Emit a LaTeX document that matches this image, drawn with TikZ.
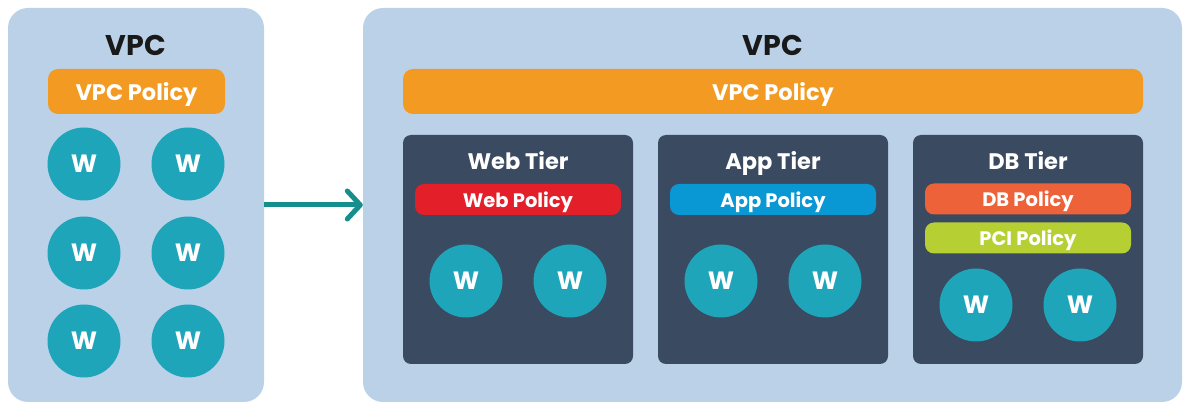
\documentclass[tikz,border=0pt]{standalone}
\usepackage{fontspec}
\setmainfont{Poppins}
\usetikzlibrary{positioning,arrows.meta}
\definecolor{panelblue}{HTML}{BBD1E8}
\definecolor{tierdark}{HTML}{3A4A60}
\definecolor{wteal}{HTML}{1FA5BA}
\definecolor{vpcorange}{HTML}{F39A22}
\definecolor{webred}{HTML}{E31F2A}
\definecolor{appblue}{HTML}{0998D3}
\definecolor{dborange}{HTML}{EE623A}
\definecolor{pcigreen}{HTML}{B6CF32}
\definecolor{arrowteal}{HTML}{178E8E}
\begin{document}
\begin{tikzpicture}
    \tikzset{x=1pt,y=-1pt,every path/.style={>=latex},
      panel style/.style={rectangle,rounded corners=20pt,fill=panelblue,inner sep=0pt},
      tier style/.style={rectangle,rounded corners=8pt,fill=tierdark,minimum width=230pt,minimum height=229pt,inner sep=0pt},
      policy style/.style={rectangle,rounded corners=9pt,text=white,font=\bfseries\fontsize{19.5}{19.5}\selectfont,inner sep=0pt,text depth=0pt,minimum height=31pt,minimum width=206pt},
      title style/.style={font=\bfseries\fontsize{22.5}{22.5}\selectfont,text=white,text depth=0pt},
      w style/.style={circle,fill=wteal,minimum size=73pt,inner sep=0pt,text=white,text depth=0pt,font=\bfseries\fontsize{25}{25}\selectfont}}
    \useasboundingbox (0,0) rectangle (1187,403);
    % the two VPCs
    \node [panel style,minimum width=256pt,minimum height=394pt] (lvpc) at (136,205) {};
    \node [panel style,minimum width=819pt,minimum height=394pt] (rvpc) at (772.5,205) {};
    \node [font=\bfseries\fontsize{28.5}{28.5}\selectfont,text=black!90,text depth=0pt] (lvpct) at (136,45) {VPC};
    \node [font=\bfseries\fontsize{28.5}{28.5}\selectfont,text=black!90,text depth=0pt] (rvpct) at (773,45) {VPC};
    \node [policy style,fill=vpcorange,rounded corners=10pt,minimum width=177pt,minimum height=45pt,font=\bfseries\fontsize{22.5}{22.5}\selectfont] (lpol) at (136.5,91.5) {VPC Policy};
    \node [policy style,fill=vpcorange,rounded corners=10pt,minimum width=740pt,minimum height=45pt,font=\bfseries\fontsize{22.5}{22.5}\selectfont] (rpol) at (773,91.5) {VPC Policy};
    % workloads on the left
      \foreach \x [count=\xi] in {84,188}
       \foreach \y [count=\yi] in {164,253,341}
       { \node [w style]   (lw\xi\yi) at (\x,\y)  {W};
       }
    % tiers
    \node [tier style] (web) at (518,249.5) {};
    \node [tier style] (app) at (773,249.5) {};
    \node [tier style] (db) at (1028,249.5) {};
    \node [title style] (webt) at (518,160) {Web Tier};
    \node [title style] (appt) at (773,160) {App Tier};
    \node [title style] (dbt) at (1028,160) {DB Tier};
    \node [policy style,fill=webred] (webp) at (518,199.5) {Web Policy};
    \node [policy style,fill=appblue] (appp) at (773,199.5) {App Policy};
    \node [policy style,fill=dborange] (dbp) at (1028,199) {DB Policy};
    \node [policy style,fill=pcigreen] (pcip) at (1028,238) {PCI Policy};
      \foreach \t/\c/\y in {web/466/281,app/721/281,db/976/305}
       { \node [w style] (\t w1) at (\c,\y) {W};
         \node [w style] (\t w2) at (\c+104,\y) {W};
       }
    \draw [arrowteal,line width=5pt,-{Straight Barb[length=13pt,width=28pt,round]}] (lvpc.east) -- (rvpc.west);
\end{tikzpicture}
\end{document}
